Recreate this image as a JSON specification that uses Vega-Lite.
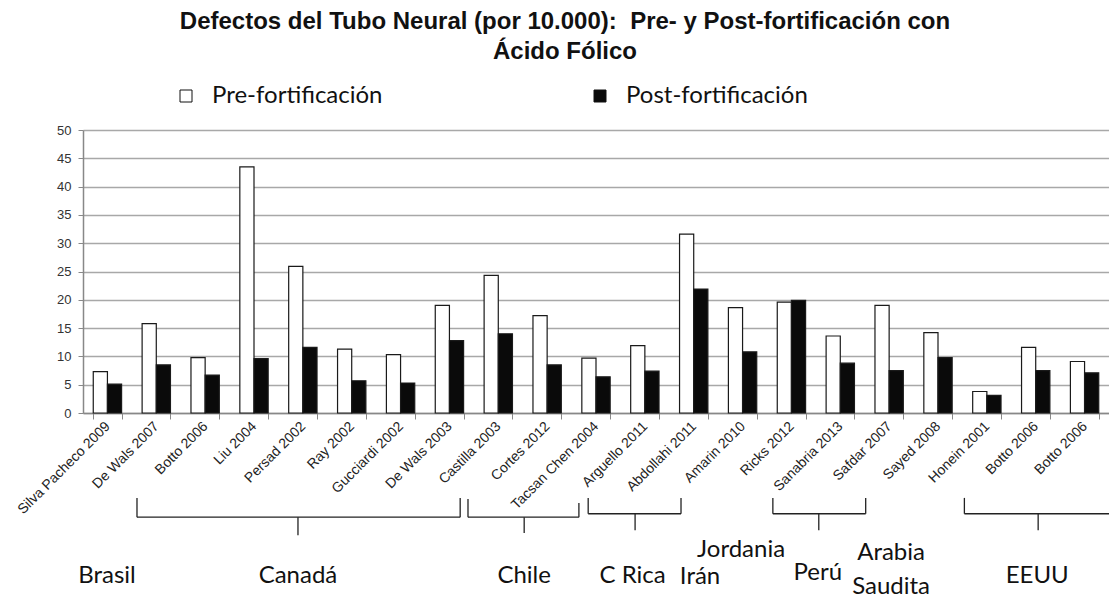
{
  "$schema": "https://vega.github.io/schema/vega-lite/v6.json",
  "width": 1026,
  "height": 283,
  "autosize": {"type": "none"},
  "padding": {"left": 83, "top": 130, "right": 0, "bottom": 185},
  "background": "white",
  "title": {
    "text": ["Defectos del Tubo Neural (por 10.000):\u00a0 Pre- y Post-fortificación con", "Ácido Fólico"],
    "font": "Liberation Sans, Arial",
    "fontSize": 24,
    "fontWeight": "bold",
    "color": "#111111",
    "anchor": "middle",
    "lineHeight": 30,
    "dx": -31,
    "offset": 20
  },
  "datasets": {
    "bars": [
      {"estudio": "Silva Pacheco 2009", "serie": "Pre-fortificación", "valor": 7.3},
      {"estudio": "Silva Pacheco 2009", "serie": "Post-fortificación", "valor": 5.1},
      {"estudio": "De Wals 2007", "serie": "Pre-fortificación", "valor": 15.8},
      {"estudio": "De Wals 2007", "serie": "Post-fortificación", "valor": 8.5},
      {"estudio": "Botto 2006|1", "serie": "Pre-fortificación", "valor": 9.8},
      {"estudio": "Botto 2006|1", "serie": "Post-fortificación", "valor": 6.7},
      {"estudio": "Liu 2004", "serie": "Pre-fortificación", "valor": 43.5},
      {"estudio": "Liu 2004", "serie": "Post-fortificación", "valor": 9.6},
      {"estudio": "Persad 2002", "serie": "Pre-fortificación", "valor": 25.9},
      {"estudio": "Persad 2002", "serie": "Post-fortificación", "valor": 11.6},
      {"estudio": "Ray 2002", "serie": "Pre-fortificación", "valor": 11.3},
      {"estudio": "Ray 2002", "serie": "Post-fortificación", "valor": 5.7},
      {"estudio": "Gucciardi 2002", "serie": "Pre-fortificación", "valor": 10.3},
      {"estudio": "Gucciardi 2002", "serie": "Post-fortificación", "valor": 5.3},
      {"estudio": "De Wals 2003", "serie": "Pre-fortificación", "valor": 19.0},
      {"estudio": "De Wals 2003", "serie": "Post-fortificación", "valor": 12.8},
      {"estudio": "Castilla 2003", "serie": "Pre-fortificación", "valor": 24.3},
      {"estudio": "Castilla 2003", "serie": "Post-fortificación", "valor": 14.0},
      {"estudio": "Cortes 2012", "serie": "Pre-fortificación", "valor": 17.2},
      {"estudio": "Cortes 2012", "serie": "Post-fortificación", "valor": 8.5},
      {"estudio": "Tacsan Chen 2004", "serie": "Pre-fortificación", "valor": 9.7},
      {"estudio": "Tacsan Chen 2004", "serie": "Post-fortificación", "valor": 6.4},
      {"estudio": "Arguello 2011", "serie": "Pre-fortificación", "valor": 11.9},
      {"estudio": "Arguello 2011", "serie": "Post-fortificación", "valor": 7.4},
      {"estudio": "Abdollahi 2011", "serie": "Pre-fortificación", "valor": 31.6},
      {"estudio": "Abdollahi 2011", "serie": "Post-fortificación", "valor": 21.9},
      {"estudio": "Amarin 2010", "serie": "Pre-fortificación", "valor": 18.6},
      {"estudio": "Amarin 2010", "serie": "Post-fortificación", "valor": 10.8},
      {"estudio": "Ricks 2012", "serie": "Pre-fortificación", "valor": 19.6},
      {"estudio": "Ricks 2012", "serie": "Post-fortificación", "valor": 19.9},
      {"estudio": "Sanabria 2013", "serie": "Pre-fortificación", "valor": 13.6},
      {"estudio": "Sanabria 2013", "serie": "Post-fortificación", "valor": 8.8},
      {"estudio": "Safdar 2007", "serie": "Pre-fortificación", "valor": 19.0},
      {"estudio": "Safdar 2007", "serie": "Post-fortificación", "valor": 7.5},
      {"estudio": "Sayed 2008", "serie": "Pre-fortificación", "valor": 14.2},
      {"estudio": "Sayed 2008", "serie": "Post-fortificación", "valor": 9.8},
      {"estudio": "Honein 2001", "serie": "Pre-fortificación", "valor": 3.8},
      {"estudio": "Honein 2001", "serie": "Post-fortificación", "valor": 3.1},
      {"estudio": "Botto 2006|2", "serie": "Pre-fortificación", "valor": 11.6},
      {"estudio": "Botto 2006|2", "serie": "Post-fortificación", "valor": 7.5},
      {"estudio": "Botto 2006|3", "serie": "Pre-fortificación", "valor": 9.1},
      {"estudio": "Botto 2006|3", "serie": "Post-fortificación", "valor": 7.1}
    ],
    "brackets": [
      {"x": 1.105, "x2": 7.72, "y": -18.4, "y2": -18.4},
      {"x": 1.105, "x2": 1.105, "y": -15.0, "y2": -18.4},
      {"x": 7.72, "x2": 7.72, "y": -15.0, "y2": -18.4},
      {"x": 4.40, "x2": 4.40, "y": -18.4, "y2": -21.6},
      {"x": 7.88, "x2": 10.15, "y": -18.4, "y2": -18.4},
      {"x": 7.88, "x2": 7.88, "y": -15.2, "y2": -18.4},
      {"x": 10.15, "x2": 10.15, "y": -15.9, "y2": -18.4},
      {"x": 9.03, "x2": 9.03, "y": -18.4, "y2": -21.2},
      {"x": 10.34, "x2": 12.24, "y": -17.8, "y2": -17.8},
      {"x": 10.34, "x2": 10.34, "y": -15.0, "y2": -17.8},
      {"x": 12.24, "x2": 12.24, "y": -15.0, "y2": -17.8},
      {"x": 11.30, "x2": 11.30, "y": -17.8, "y2": -20.7},
      {"x": 14.12, "x2": 16.02, "y": -17.8, "y2": -17.8},
      {"x": 14.12, "x2": 14.12, "y": -15.0, "y2": -17.8},
      {"x": 16.02, "x2": 16.02, "y": -15.0, "y2": -17.8},
      {"x": 15.06, "x2": 15.06, "y": -17.8, "y2": -20.7},
      {"x": 18.04, "x2": 21.0, "y": -17.8, "y2": -17.8},
      {"x": 18.04, "x2": 18.04, "y": -15.0, "y2": -17.8},
      {"x": 19.55, "x2": 19.55, "y": -17.8, "y2": -20.7}
    ],
    "paises": [
      {"pais": "Brasil", "x": 0.49, "y": -28.8},
      {"pais": "Canadá", "x": 4.40, "y": -28.8},
      {"pais": "Chile", "x": 9.03, "y": -28.8},
      {"pais": "C Rica", "x": 11.25, "y": -28.8},
      {"pais": "Irán", "x": 12.63, "y": -29.0},
      {"pais": "Jordania", "x": 13.47, "y": -24.2},
      {"pais": "Perú", "x": 15.04, "y": -28.3},
      {"pais": "Arabia", "x": 16.54, "y": -24.7},
      {"pais": "Saudita", "x": 16.54, "y": -30.7},
      {"pais": "EEUU", "x": 19.53, "y": -28.8}
    ]
  },
  "layer": [
    {
      "data": {"name": "bars"},
      "mark": {"type": "bar", "stroke": "#1a1a1a", "strokeWidth": 1.2},
      "encoding": {
        "x": {
          "field": "estudio",
          "type": "nominal",
          "sort": null,
          "scale": {"paddingInner": 0.42, "paddingOuter": 0.21},
          "axis": {
            "title": null,
            "labelAngle": -45,
            "labelAlign": "right",
            "labelBaseline": "middle",
            "labelExpr": "isString(datum.value) ? split(datum.value, '|')[0] : ''",
            "labelFont": "Liberation Sans, Arial",
            "labelFontSize": 14,
            "labelColor": "#222222",
            "labelPadding": 5,
            "labelOverlap": false,
            "tickBand": "extent",
            "tickSize": 6,
            "tickColor": "#888888",
            "domainColor": "#888888",
            "domainWidth": 1.5
          }
        },
        "xOffset": {"field": "serie", "type": "nominal", "sort": ["Pre-fortificación", "Post-fortificación"]},
        "y": {
          "field": "valor",
          "type": "quantitative",
          "scale": {"domain": [0, 50], "nice": false},
          "axis": {
            "title": null,
            "values": [0, 5, 10, 15, 20, 25, 30, 35, 40, 45, 50],
            "labelFont": "Liberation Sans, Arial",
            "labelFontSize": 13,
            "labelColor": "#333333",
            "labelPadding": 7,
            "tickSize": 5,
            "tickColor": "#888888",
            "domainColor": "#888888",
            "domainWidth": 1.5,
            "grid": true,
            "gridColor": "#a8a8a8",
            "gridWidth": 1.5
          }
        },
        "color": {
          "field": "serie",
          "type": "nominal",
          "scale": {"domain": ["Pre-fortificación", "Post-fortificación"], "range": ["#ffffff", "#0a0a0a"]},
          "legend": {
            "title": null,
            "orient": "none",
            "direction": "horizontal",
            "legendX": 91,
            "legendY": -46,
            "columnPadding": 205,
            "symbolType": "square",
            "symbolSize": 144,
            "symbolStrokeColor": "#111111",
            "symbolStrokeWidth": 1,
            "labelFont": "Lato",
            "labelFontSize": 24,
            "labelColor": "#111111",
            "labelOffset": 14,
            "labelLimit": 400,
            "padding": 0
          }
        }
      }
    },
    {
      "data": {"name": "brackets"},
      "mark": {"type": "rule", "color": "#222222", "strokeWidth": 1.3},
      "encoding": {
        "x": {"field": "x", "type": "quantitative", "scale": {"domain": [0, 21], "nice": false, "zero": false}, "axis": null},
        "x2": {"field": "x2"},
        "y": {"field": "y", "type": "quantitative", "scale": {"domain": [0, 50], "nice": false}, "axis": null},
        "y2": {"field": "y2"}
      }
    },
    {
      "data": {"name": "paises"},
      "mark": {"type": "text", "font": "Lato", "fontSize": 24, "color": "#111111", "align": "center", "baseline": "middle"},
      "encoding": {
        "x": {"field": "x", "type": "quantitative", "scale": {"domain": [0, 21], "nice": false, "zero": false}, "axis": null},
        "y": {"field": "y", "type": "quantitative", "scale": {"domain": [0, 50], "nice": false}, "axis": null},
        "text": {"field": "pais"}
      }
    }
  ],
  "resolve": {"scale": {"x": "independent"}, "axis": {"y": "independent"}},
  "config": {"view": {"stroke": null}}
}
